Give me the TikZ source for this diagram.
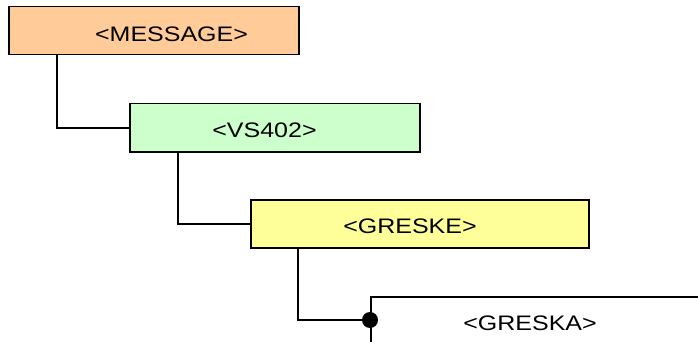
\documentclass[tikz,border=0pt]{standalone}
\usepackage{fontspec}
\setmainfont{Liberation Sans}[FakeStretch=1.19]
\usetikzlibrary{calc}
\definecolor{msgfill}{HTML}{FFCC99}
\definecolor{vsfill}{HTML}{CCFFCC}
\definecolor{grfill}{HTML}{FFFF99}
\begin{document}
\begin{tikzpicture}[x=1pt,y=-1pt,
  box/.style={draw=black, line width=1.5pt, rectangle, inner sep=0pt, anchor=north west},
  txt/.style={inner sep=0pt, anchor=base, font=\fontsize{21}{25}\selectfont},
  conn/.style={draw=black, line width=2pt}]
\useasboundingbox (0,0) rectangle (698,342);
\clip (0,0) rectangle (698,342);
\node[box, fill=msgfill, minimum width=290pt, minimum height=48pt] (msg) at (8,6) {};
\node[txt] (msgt) at (171.5,42) {<MESSAGE>};
\node[box, fill=vsfill, minimum width=290pt, minimum height=48pt] (vs) at (129,103) {};
\node[txt] (vst) at (264.5,137.5) {<VS402>};
\node[box, fill=grfill, minimum width=338pt, minimum height=48pt] (gre) at (250,199) {};
\node[txt] (gret) at (410,233) {<GRESKE>};
\node[box, fill=white, minimum width=360pt, minimum height=80pt] (gra) at (370,296) {};
\node[txt] (grat) at (530,330) {<GRESKA>};
\coordinate (dot) at (370,320);
\draw[conn] ($(msg.south west)+(49,0)$) |- (vs.west);
\draw[conn] ($(vs.south west)+(49,0)$) |- (gre.west);
\draw[conn] ($(gre.south west)+(48,0)$) |- (dot);
\fill[black] (dot) circle (8pt);
\end{tikzpicture}
\end{document}
